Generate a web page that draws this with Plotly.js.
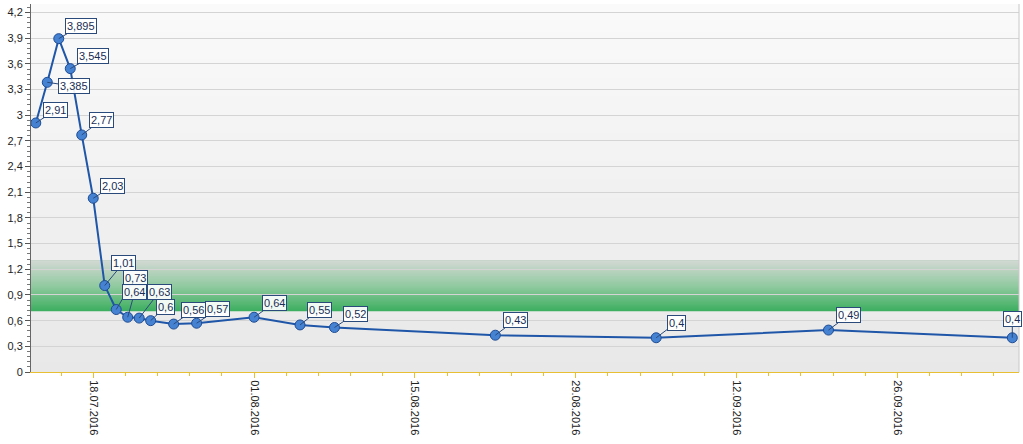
<!DOCTYPE html>
<html><head><meta charset="utf-8">
<script src="https://cdn.plot.ly/plotly-3.0.1.min.js"></script>
<style>html,body{margin:0;padding:0;background:#fff}#chart{width:1023px;height:444px}</style>
</head><body><div id="chart"></div>
<script>
// ---- data ----
const dates = ['2016-07-13','2016-07-14','2016-07-15','2016-07-16','2016-07-17','2016-07-18','2016-07-19','2016-07-20','2016-07-21','2016-07-22','2016-07-23','2016-07-25','2016-07-27','2016-08-01','2016-08-05','2016-08-08','2016-08-22','2016-09-05','2016-09-20','2016-10-06'];
const values = [2.91, 3.385, 3.895, 3.545, 2.77, 2.03, 1.01, 0.73, 0.64, 0.63, 0.6, 0.56, 0.57, 0.64, 0.55, 0.52, 0.43, 0.4, 0.49, 0.4];
const bandLow = 0.71;
const bandHigh = 1.3;
const tickStart = '2016-07-18';

// ---- presentation ----
const xRange = ['2016-07-12 14:00','2016-10-06 14:00'];
const yRange = [0, 4.3];
const labelOffsets = [[20,-13],[27,4],[22,-13],[23,-13],[20,-15],[19,-12],[19,-23],[19,-32],[7,-25],[20,-26],[15,-14],[20,-14],[21,-14],[20,-14],[19,-15],[21,-14],[20,-15],[20,-15],[20,-15],[0,-19]];
const DAY = 86400000;

function mix(a,b,t){return 'rgb('+a.map((v,i)=>Math.round(v+(b[i]-v)*t)).join(',')+')';}

const shapes = [];
// plot background gradient (nested strips, no seams)
const NB = 40;
for (let i=0;i<NB;i++){
  const y0 = yRange[0]+(yRange[1]-yRange[0])*i/NB;
  shapes.push({type:'rect',xref:'paper',yref:'paper',x0:0,x1:1,y0:i/NB,y1:1,layer:'below',line:{width:0},
    fillcolor: mix([232,232,232],[250,250,250],(i+0.5)/NB)});
}
// green band gradient (nested strips)
const NG = 40;
const gTop=[210,216,211], gMid=[145,202,160], gBot=[60,174,95];
for (let i=0;i<NG;i++){
  const y0 = bandLow+(bandHigh-bandLow)*i/NG;
  const t=(i+0.5)/NG;
  const c = t<0.5 ? mix(gBot,gMid,t/0.5) : mix(gMid,gTop,(t-0.5)/0.5);
  shapes.push({type:'rect',xref:'paper',yref:'y',x0:0,x1:1,y0:y0,y1:bandHigh,layer:'below',line:{width:0},fillcolor:c});
}
// right border
shapes.push({type:'line',xref:'paper',yref:'paper',x0:1,x1:1,y0:0,y1:1,line:{color:'rgb(200,200,200)',width:1}});

const annotations = values.map((v,i)=>({
  x: dates[i], y: v, xref:'x', yref:'y',
  text: String(v).replace('.',','),
  showarrow:true, arrowhead:0, arrowwidth:1, arrowcolor:'#2A4A7C',
  ax: labelOffsets[i][0], ay: labelOffsets[i][1], standoff:0,
  bgcolor:'rgba(255,255,255,0.92)', bordercolor:'#2A4A7C', borderwidth:1, borderpad:1,
  font:{family:'Liberation Sans, Arial, sans-serif', size:11, color:'#1A2E55'}
}));

const trace = {
  x: dates, y: values, type:'scatter', mode:'lines+markers',
  line:{color:'#1F56A8', width:2},
  marker:{size:10, color:'#4682D2', line:{color:'#1E4C94', width:1}},
  hoverinfo:'x+y', cliponaxis:false
};

const gold = 'rgb(232,190,50)';
const layout = {
  width:1023, height:444,
  margin:{l:31, r:4, t:4, b:72},
  paper_bgcolor:'#fff', plot_bgcolor:'rgb(242,242,242)',
  separators:',.',
  showlegend:false,
  xaxis:{type:'date', range:xRange, tick0:tickStart, dtick:14*DAY, tickformat:'%d.%m.%Y', tickangle:90,
    ticks:'outside', ticklen:5, tickcolor:gold, showline:true, linecolor:gold, linewidth:1,
    showgrid:false, zeroline:false,
    minor:{tick0:tickStart, dtick:2.8*DAY, ticks:'outside', ticklen:3, tickcolor:gold, showgrid:false},
    tickfont:{family:'Liberation Sans, Arial, sans-serif', size:11, color:'#222'}},
  yaxis:{range:yRange, tick0:0, dtick:0.3, ticks:'outside', ticklen:5, tickcolor:'#555',
    showline:true, linecolor:'#666', linewidth:1, gridcolor:'rgb(212,212,212)', gridwidth:1, zeroline:false,
    minor:{tick0:0, dtick:0.06, ticks:'outside', ticklen:3, tickcolor:'#777', showgrid:false},
    tickfont:{family:'Liberation Sans, Arial, sans-serif', size:11, color:'#222'}},
  shapes:shapes,
  annotations:annotations
};

Plotly.newPlot('chart',[trace],layout,{displayModeBar:false,staticPlot:true});
</script></body></html>
